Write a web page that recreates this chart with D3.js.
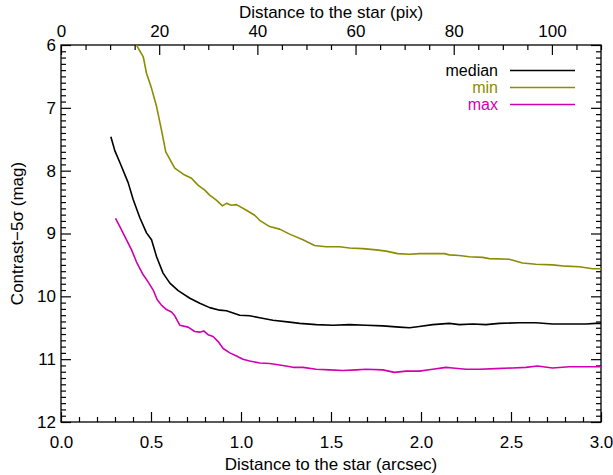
<!DOCTYPE html>
<html>
<head>
<meta charset="utf-8">
<script src="https://cdn.jsdelivr.net/npm/d3@7"></script>
<style>
  html, body { margin: 0; padding: 0; background: #fff; }
  svg { display: block; font-family: "Liberation Sans", Arial, Helvetica, sans-serif; }
</style>
</head>
<body>
<svg id="chart" width="613" height="475"></svg>
<script>
// ---------- data ----------
const medianSep = [0.277,0.300,0.327,0.373,0.401,0.438,0.475,0.503,0.531,0.567,0.605,0.651,0.716,0.771,0.826,0.882,0.919,0.993,1.048,1.104,1.177,1.270,1.326,1.418,1.510,1.603,1.695,1.788,1.880,1.936,1.991,2.065,2.157,2.213,2.287,2.361,2.435,2.546,2.638,2.731,2.841,2.916,2.971,3.000];
const medianMag = [7.46,7.69,7.87,8.19,8.46,8.75,8.99,9.10,9.37,9.63,9.79,9.91,10.03,10.11,10.18,10.22,10.23,10.30,10.31,10.34,10.38,10.41,10.43,10.45,10.46,10.45,10.46,10.47,10.49,10.50,10.48,10.45,10.43,10.45,10.44,10.45,10.43,10.42,10.42,10.44,10.44,10.44,10.43,10.43];

const minSep = [0.400,0.429,0.457,0.475,0.503,0.531,0.558,0.582,0.632,0.687,0.725,0.761,0.799,0.826,0.863,0.897,0.919,0.947,0.975,1.030,1.076,1.104,1.159,1.215,1.270,1.344,1.409,1.473,1.547,1.603,1.677,1.751,1.806,1.871,1.936,1.991,2.065,2.130,2.157,2.213,2.268,2.342,2.379,2.490,2.564,2.638,2.731,2.805,2.879,2.953,3.000];
const minMag = [5.90,6.05,6.19,6.45,6.69,6.98,7.35,7.70,7.96,8.07,8.12,8.23,8.31,8.39,8.47,8.56,8.52,8.55,8.54,8.63,8.71,8.79,8.89,8.93,9.01,9.10,9.19,9.21,9.21,9.23,9.24,9.26,9.28,9.32,9.33,9.32,9.32,9.32,9.34,9.35,9.37,9.38,9.40,9.41,9.47,9.49,9.50,9.52,9.53,9.56,9.56];

const maxSep = [0.303,0.327,0.355,0.392,0.419,0.453,0.484,0.512,0.534,0.558,0.586,0.614,0.632,0.660,0.706,0.743,0.771,0.793,0.817,0.845,0.873,0.901,0.938,0.975,1.011,1.048,1.104,1.159,1.233,1.289,1.344,1.418,1.492,1.566,1.640,1.695,1.788,1.853,1.917,1.991,2.065,2.139,2.176,2.250,2.324,2.416,2.509,2.583,2.647,2.731,2.823,2.916,3.000];
const maxMag = [8.76,8.89,9.05,9.26,9.45,9.64,9.77,9.90,10.05,10.14,10.21,10.25,10.31,10.46,10.49,10.56,10.57,10.55,10.61,10.64,10.72,10.83,10.90,10.95,11.00,11.03,11.06,11.07,11.10,11.13,11.13,11.16,11.17,11.18,11.17,11.16,11.17,11.21,11.19,11.19,11.16,11.13,11.14,11.16,11.16,11.15,11.14,11.13,11.11,11.14,11.12,11.12,11.12];

const seriesNames = ["median", "min", "max"];
const seriesColors = ["#000000", "#8c8c00", "#d000b0"];

const arcsecTicks = [0.0, 0.5, 1.0, 1.5, 2.0, 2.5, 3.0];
const pixTicks = [0, 20, 40, 60, 80, 100];
const magTicks = [6, 7, 8, 9, 10, 11, 12];
const arcsecDomain = [0, 3];
const pixDomain = [0, 110];
const magDomain = [6, 12];

// ---------- layout ----------
const svg = d3.select("#chart");
const L = 61, R = 601, T = 45, B = 422;
const fs = 17;

const x = d3.scaleLinear().domain(arcsecDomain).range([L, R]);
const xp = d3.scaleLinear().domain(pixDomain).range([L, R]);
const y = d3.scaleLinear().domain(magDomain).range([T, B]);

const MAJ = 10, MIN = 5;

function minorVals(domain, step, majors) {
  const out = [];
  const n = Math.round((domain[1] - domain[0]) / step);
  for (let i = 0; i <= n; i++) {
    const v = +(domain[0] + i * step).toFixed(6);
    if (!majors.some(m => Math.abs(m - v) < 1e-6)) out.push(v);
  }
  return out;
}

function styleAxis(g) {
  g.select(".domain").remove();
  g.selectAll(".tick line").attr("stroke", "#000").attr("stroke-width", 1.2);
  g.selectAll(".tick text").attr("font-size", fs).attr("fill", "#000")
    .attr("font-family", "'Liberation Sans', Arial, sans-serif");
}

// bottom
svg.append("g").attr("transform", `translate(0,${B})`)
  .call(d3.axisBottom(x).tickValues(arcsecTicks).tickFormat(d3.format(".1f")).tickSizeInner(-MAJ).tickSizeOuter(0).tickPadding(14))
  .call(styleAxis);
svg.append("g").attr("transform", `translate(0,${B})`)
  .call(d3.axisBottom(x).tickValues(minorVals(arcsecDomain, 0.1, arcsecTicks)).tickFormat("").tickSizeInner(-MIN).tickSizeOuter(0))
  .call(styleAxis);

// top
svg.append("g").attr("transform", `translate(0,${T})`)
  .call(d3.axisTop(xp).tickValues(pixTicks).tickFormat(d3.format("d")).tickSizeInner(-MAJ).tickSizeOuter(0).tickPadding(8))
  .call(styleAxis);
svg.append("g").attr("transform", `translate(0,${T})`)
  .call(d3.axisTop(xp).tickValues(minorVals([0, 110], 5, pixTicks)).tickFormat("").tickSizeInner(-MIN).tickSizeOuter(0))
  .call(styleAxis);

// left
svg.append("g").attr("transform", `translate(${L},0)`)
  .call(d3.axisLeft(y).tickValues(magTicks).tickFormat(d3.format("d")).tickSizeInner(-MAJ).tickSizeOuter(0).tickPadding(5))
  .call(styleAxis);
svg.append("g").attr("transform", `translate(${L},0)`)
  .call(d3.axisLeft(y).tickValues(minorVals(magDomain, 0.1, magTicks)).tickFormat("").tickSizeInner(-MIN).tickSizeOuter(0))
  .call(styleAxis);

// right
svg.append("g").attr("transform", `translate(${R},0)`)
  .call(d3.axisRight(y).tickValues(magTicks).tickFormat("").tickSizeInner(-MAJ).tickSizeOuter(0))
  .call(styleAxis);
svg.append("g").attr("transform", `translate(${R},0)`)
  .call(d3.axisRight(y).tickValues(minorVals(magDomain, 0.1, magTicks)).tickFormat("").tickSizeInner(-MIN).tickSizeOuter(0))
  .call(styleAxis);

// frame
svg.append("rect").attr("x", L).attr("y", T).attr("width", R - L).attr("height", B - T)
  .attr("fill", "none").attr("stroke", "#000").attr("stroke-width", 1.3);

// clip
svg.append("clipPath").attr("id", "clip").append("rect")
  .attr("x", L).attr("y", T).attr("width", R - L).attr("height", B - T);

const line = d3.line().x(d => x(d[0])).y(d => y(d[1]));
const series = [
  d3.zip(medianSep, medianMag),
  d3.zip(minSep, minMag),
  d3.zip(maxSep, maxMag)
];
series.forEach((s, i) => {
  svg.append("path").datum(s).attr("d", line).attr("clip-path", "url(#clip)")
    .attr("fill", "none").attr("stroke", seriesColors[i]).attr("stroke-width", 1.6)
    .attr("stroke-linejoin", "round");
});

// legend
const legY = [70, 87, 104];
const legFs = 16;
seriesNames.forEach((n, i) => {
  svg.append("text").attr("x", 498).attr("y", legY[i]).attr("dy", "0.35em")
    .attr("text-anchor", "end").attr("font-size", legFs).attr("fill", seriesColors[i]).text(n);
  svg.append("line").attr("x1", 510).attr("x2", 575).attr("y1", legY[i] + 0.5).attr("y2", legY[i] + 0.5)
    .attr("stroke", seriesColors[i]).attr("stroke-width", 1.6);
});

// axis titles
svg.append("text").attr("x", (L + R) / 2).attr("y", 470).attr("text-anchor", "middle")
  .attr("font-size", fs).text("Distance to the star (arcsec)");
svg.append("text").attr("x", (L + R) / 2).attr("y", 18).attr("text-anchor", "middle")
  .attr("font-size", fs).text("Distance to the star (pix)");
svg.append("text").attr("transform", `translate(23,${(T + B) / 2}) rotate(-90)`)
  .attr("text-anchor", "middle").attr("font-size", fs).text("Contrast\u22125\u03c3 (mag)");
</script>
</body>
</html>
